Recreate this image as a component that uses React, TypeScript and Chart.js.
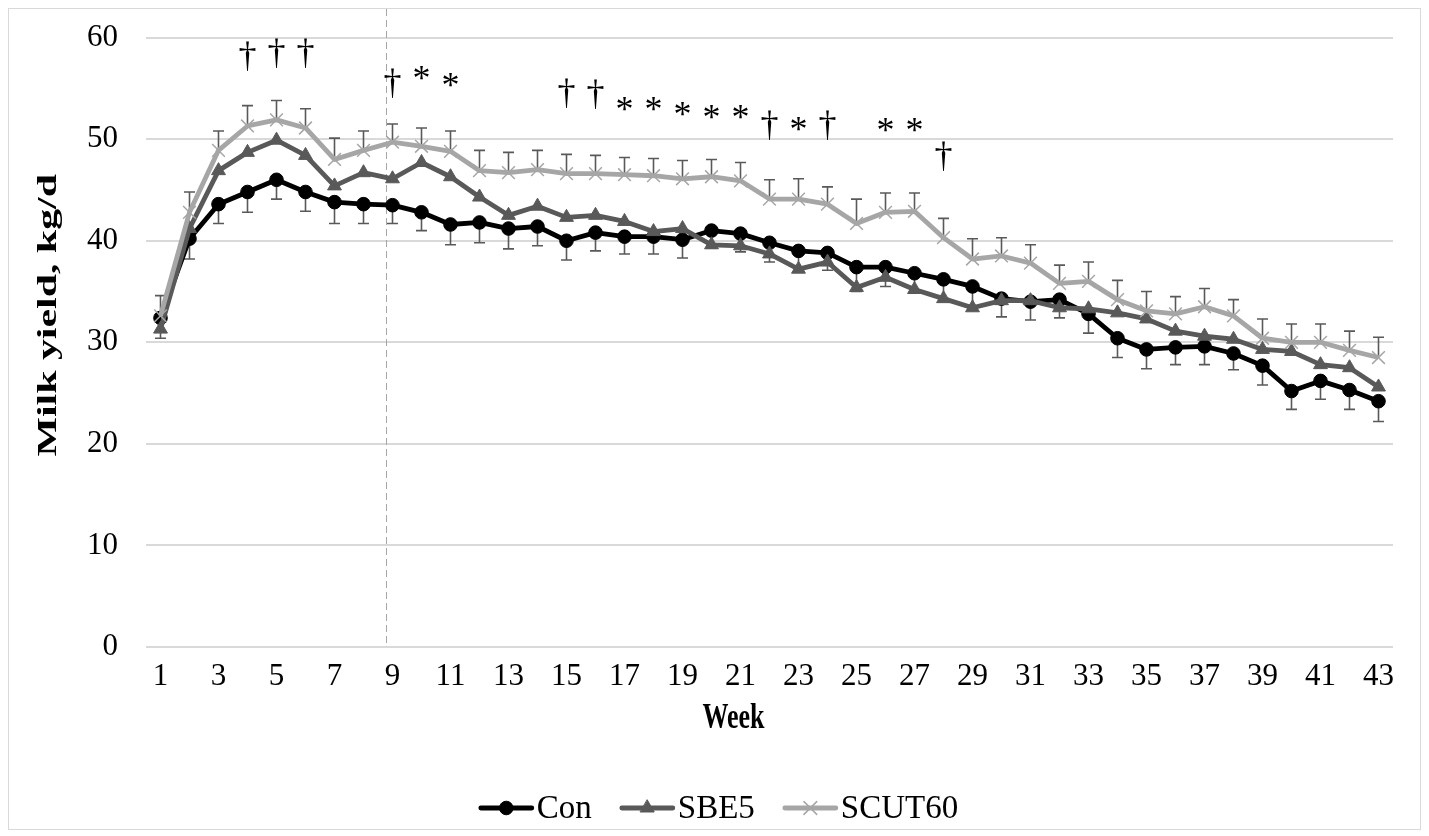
import { useEffect, useRef } from 'react';
import { Chart, registerables } from 'chart.js';
import { drawPoint } from 'chart.js/helpers';

Chart.register(...registerables);

const SERIF = "'Liberation Serif', 'Times New Roman', Times, serif";

const weeks = ['1', '2', '3', '4', '5', '6', '7', '8', '9', '10', '11', '12', '13', '14', '15', '16', '17', '18', '19', '20', '21', '22', '23', '24', '25', '26', '27', '28', '29', '30', '31', '32', '33', '34', '35', '36', '37', '38', '39', '40', '41', '42', '43'];

const conYield = [32.4, 40.2, 43.6, 44.8, 46.0, 44.8, 43.8, 43.6, 43.5, 42.8, 41.6, 41.8, 41.2, 41.4, 40.0, 40.8, 40.4, 40.4, 40.1, 41.0, 40.7, 39.8, 39.0, 38.8, 37.4, 37.4, 36.8, 36.2, 35.5, 34.3, 34.0, 34.2, 32.8, 30.4, 29.3, 29.5, 29.6, 28.9, 27.7, 25.2, 26.2, 25.3, 24.2];
const sbe5Yield = [31.3, 41.2, 46.9, 48.7, 49.9, 48.4, 45.4, 46.7, 46.1, 47.7, 46.3, 44.3, 42.5, 43.4, 42.3, 42.5, 41.9, 40.9, 41.2, 39.6, 39.5, 38.7, 37.2, 37.9, 35.4, 36.4, 35.2, 34.3, 33.4, 34.1, 34.1, 33.4, 33.3, 32.9, 32.3, 31.1, 30.6, 30.3, 29.3, 29.1, 27.8, 27.5, 25.6];
const scut60Yield = [32.6, 42.8, 48.9, 51.3, 51.9, 51.1, 48.0, 48.9, 49.7, 49.3, 48.8, 46.9, 46.7, 47.0, 46.6, 46.6, 46.5, 46.4, 46.1, 46.3, 45.9, 44.1, 44.1, 43.6, 41.7, 42.8, 42.9, 40.3, 38.2, 38.5, 37.8, 35.8, 36.0, 34.2, 33.1, 32.8, 33.5, 32.6, 30.4, 30.0, 30.0, 29.2, 28.5];
const pooledSem = [2.0, 2.0, 1.9, 2.0, 1.9, 1.9, 2.1, 1.9, 1.8, 1.8, 2.0, 2.0, 2.0, 1.9, 1.9, 1.8, 1.7, 1.7, 1.8, 1.7, 1.8, 1.9, 2.0, 1.7, 2.4, 1.9, 1.8, 1.9, 2.0, 1.8, 1.8, 1.8, 1.9, 1.9, 1.9, 1.7, 1.8, 1.6, 1.9, 1.8, 1.8, 1.9, 2.0];

// significance marks (symbol shown above a week, at a label level in kg/d)
const sigWeeks = ['4', '5', '6', '9', '10', '11', '15', '16', '17', '18', '19', '20', '21', '22', '23', '24', '26', '27', '28'];
const sigSymbols = ['†', '†', '†', '†', '*', '*', '†', '†', '*', '*', '*', '*', '*', '†', '*', '†', '*', '*', '†'];
const sigLevels = [58.2, 58.5, 58.45, 55.5, 56.5, 55.85, 54.5, 54.4, 53.5, 53.5, 53.0, 52.7, 52.7, 51.4, 51.5, 51.4, 51.4, 51.4, 48.3];

// dashed divider between week 8 and week 9
const dividerWeek = 8.77;

const yTicks = { min: 0, max: 60, step: 10 };
const xTitle = 'Week';
const yTitle = 'Milk yield, kg/d';

const weekIndexPixel = (chart: any, week: number) => {
  const x = chart.scales.x;
  const lo = Math.floor(week);
  const frac = week - lo;
  const p0 = x.getPixelForValue(weeks.indexOf(String(lo)));
  const p1 = x.getPixelForValue(weeks.indexOf(String(lo + 1)));
  return p0 + (p1 - p0) * frac;
};

const errorBarPlugin = {
  id: 'errorBars',
  beforeDatasetDraw(chart: any, args: any) {
    const ds = chart.data.datasets[args.index];
    const dir = ds.errorDirection;
    if (!dir) return;
    const y = chart.scales.y;
    const ctx = chart.ctx;
    ctx.save();
    ctx.strokeStyle = '#595959';
    ctx.lineWidth = 1.6;
    args.meta.data.forEach((pt: any, i: number) => {
      const v = ds.data[i];
      const e = pooledSem[i];
      const end = dir === 'plus' ? v + e : v - e;
      const y1 = y.getPixelForValue(end);
      ctx.beginPath();
      ctx.moveTo(pt.x, pt.y);
      ctx.lineTo(pt.x, y1);
      ctx.moveTo(pt.x - 5.5, y1);
      ctx.lineTo(pt.x + 5.5, y1);
      ctx.stroke();
    });
    ctx.restore();
  },
};

const dividerPlugin = {
  id: 'divider',
  beforeDatasetsDraw(chart: any) {
    const ctx = chart.ctx;
    const px = Math.round(weekIndexPixel(chart, dividerWeek)) + 0.5;
    ctx.save();
    ctx.strokeStyle = '#a6a6a6';
    ctx.lineWidth = 1;
    ctx.setLineDash([7, 4]);
    ctx.beginPath();
    ctx.moveTo(px, 0);
    ctx.lineTo(px, chart.chartArea.bottom);
    ctx.stroke();
    ctx.restore();
  },
};

const annotationPlugin = {
  id: 'annotations',
  afterDraw(chart: any) {
    const ctx = chart.ctx;
    const x = chart.scales.x;
    const y = chart.scales.y;
    const area = chart.chartArea;

    // axis titles (tall, narrow bold serif as in the source figure)
    ctx.save();
    ctx.fillStyle = '#000';
    ctx.textAlign = 'center';
    ctx.textBaseline = 'middle';
    ctx.font = `bold 26px ${SERIF}`;
    ctx.translate((area.left + area.right) / 2 - 36, x.top + 72);
    ctx.scale(1, 1.4);
    ctx.fillText(xTitle, 0, 0);
    ctx.restore();

    ctx.save();
    ctx.fillStyle = '#000';
    ctx.textAlign = 'center';
    ctx.textBaseline = 'middle';
    ctx.font = `bold 27px ${SERIF}`;
    ctx.translate(40, (area.top + area.bottom) / 2 - 27);
    ctx.scale(1, 1.55);
    ctx.rotate(-Math.PI / 2);
    ctx.fillText(yTitle, 0, 0);
    ctx.restore();

    // significance symbols
    ctx.save();
    ctx.font = `36px ${SERIF}`;
    ctx.fillStyle = '#000';
    ctx.textAlign = 'center';
    ctx.textBaseline = 'alphabetic';
    sigWeeks.forEach((w, i) => {
      const px = x.getPixelForValue(weeks.indexOf(w));
      const py = y.getPixelForValue(sigLevels[i]);
      const m = ctx.measureText(sigSymbols[i]);
      const base = py + (m.actualBoundingBoxAscent - m.actualBoundingBoxDescent) / 2;
      ctx.fillText(sigSymbols[i], px, base);
    });
    ctx.restore();

    // legend (line + marker + label)
    const items = chart.data.datasets.map((ds: any) => ({
      label: ds.label,
      color: ds.borderColor,
      style: ds.pointStyle,
      radius: ds.pointRadius,
      pointBorderWidth: ds.pointBorderWidth,
      pointColor: ds.pointBackgroundColor,
      pointBorder: ds.pointBorderColor,
      lineWidth: ds.borderWidth,
    }));
    ctx.save();
    ctx.font = `33px ${SERIF}`;
    const lineLen = 55;
    const textGap = 3;
    const itemGap = 28;
    const widths = items.map((it: any) => lineLen + textGap + ctx.measureText(it.label).width);
    const total = widths.reduce((a: number, b: number) => a + b, 0) + itemGap * (items.length - 1);
    let cx = (chart.width - total) / 2 + 4;
    const cy = x.bottom + 39;
    items.forEach((it: any, i: number) => {
      ctx.strokeStyle = it.color;
      ctx.lineWidth = it.lineWidth;
      ctx.lineCap = 'round';
      ctx.beginPath();
      ctx.moveTo(cx + 2, cy);
      ctx.lineTo(cx + lineLen - 2, cy);
      ctx.stroke();
      ctx.fillStyle = it.pointColor;
      ctx.strokeStyle = it.pointBorder;
      ctx.lineWidth = it.pointBorderWidth;
      drawPoint(ctx, { pointStyle: it.style, radius: it.radius, borderWidth: it.pointBorderWidth, rotation: 0 }, cx + lineLen / 2, cy);
      ctx.fillStyle = '#000';
      ctx.textAlign = 'left';
      ctx.textBaseline = 'middle';
      ctx.fillText(it.label, cx + lineLen + textGap, cy + 1);
      cx += widths[i] + itemGap;
    });
    ctx.restore();
  },
};

export default function App() {
  const ref = useRef<HTMLCanvasElement | null>(null);

  useEffect(() => {
    if (!ref.current) return;
    const chart = new Chart(ref.current, {
      type: 'line',
      data: {
        labels: weeks,
        datasets: [
          {
            label: 'Con',
            data: conYield,
            borderColor: '#000000',
            backgroundColor: '#000000',
            borderWidth: 4.8,
            pointStyle: 'circle',
            pointRadius: 6.8,
            pointBorderWidth: 1,
            pointBackgroundColor: '#000000',
            pointBorderColor: '#000000',
            borderJoinStyle: 'round',
            tension: 0,
            order: 3,
            errorDirection: 'minus',
          } as any,
          {
            label: 'SBE5',
            data: sbe5Yield,
            borderColor: '#595959',
            backgroundColor: '#595959',
            borderWidth: 4.8,
            pointStyle: 'triangle',
            pointRadius: 8,
            pointBorderWidth: 1,
            pointBackgroundColor: '#595959',
            pointBorderColor: '#595959',
            borderJoinStyle: 'round',
            tension: 0,
            order: 2,
          } as any,
          {
            label: 'SCUT60',
            data: scut60Yield,
            borderColor: '#a6a6a6',
            backgroundColor: '#a6a6a6',
            borderWidth: 4.8,
            pointStyle: 'crossRot',
            pointRadius: 9,
            pointBorderWidth: 1.5,
            pointBackgroundColor: '#a6a6a6',
            pointBorderColor: '#a6a6a6',
            borderJoinStyle: 'round',
            tension: 0,
            order: 1,
            errorDirection: 'plus',
          } as any,
        ],
      },
      options: {
        animation: false,
        responsive: true,
        maintainAspectRatio: false,
        events: [],
        layout: { padding: { top: 28, right: 27, bottom: 60, left: 0 } },
        plugins: {
          legend: { display: false },
          tooltip: { enabled: false },
        },
        scales: {
          x: {
            type: 'category',
            offset: true,
            grid: { display: false, drawTicks: false },
            border: { display: false },
            ticks: {
              autoSkip: false,
              maxRotation: 0,
              minRotation: 0,
              padding: 11,
              color: '#000',
              font: { family: SERIF, size: 31 },
              callback: (_v: any, i: number) => (Number(weeks[i]) % 2 === 1 ? weeks[i] : ''),
            },
            afterFit: (scale: any) => {
              scale.height = 122;
            },
          },
          y: {
            min: yTicks.min,
            max: yTicks.max,
            grid: { color: '#d9d9d9', lineWidth: 2, drawTicks: true, tickLength: 18, tickColor: 'rgba(0,0,0,0)' },
            border: { display: false },
            ticks: {
              stepSize: yTicks.step,
              padding: 10,
              color: '#000',
              font: { family: SERIF, size: 31 },
            },
            afterFit: (scale: any) => {
              scale.width = 137;
            },
          },
        },
      },
      plugins: [errorBarPlugin, dividerPlugin, annotationPlugin],
    });
    return () => chart.destroy();
  }, []);

  return (
    <div
      style={{
        width: 1413,
        height: 822,
        border: '1px solid #d9d9d9',
        boxSizing: 'border-box',
        position: 'relative',
        background: '#fff',
      }}
    >
      <canvas ref={ref} />
    </div>
  );
}
